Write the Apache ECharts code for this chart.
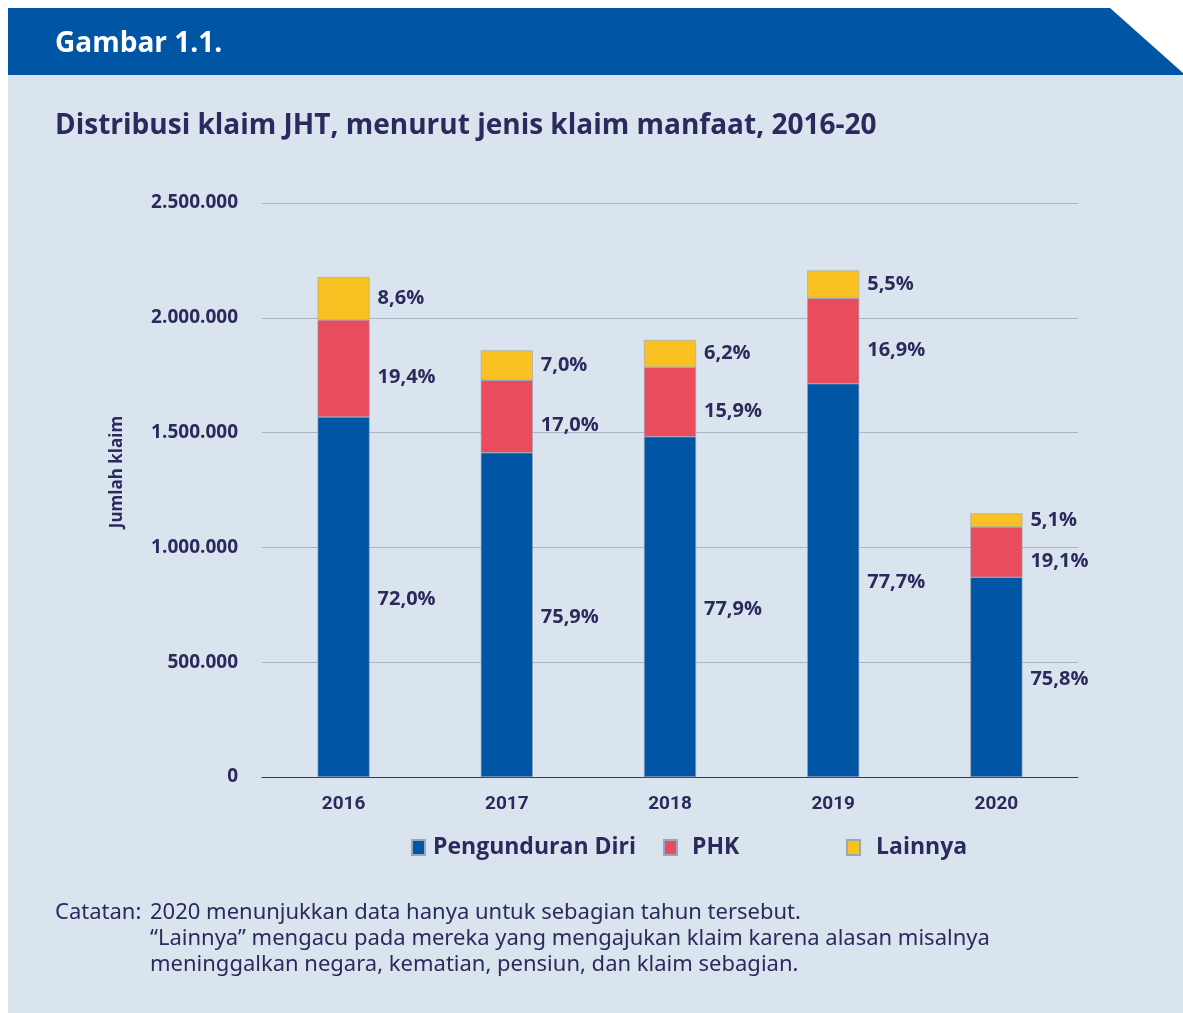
<!DOCTYPE html>
<html>
<head>
<meta charset="utf-8">
<script src="https://cdn.jsdelivr.net/npm/echarts@6/dist/echarts.min.js"></script>
<style>
html,body{margin:0;padding:0;background:#ffffff;}
#chart{width:1183px;height:1013px;}
</style>
</head>
<body>
<div id="chart"></div>
<script>
const categories = ['2016', '2017', '2018', '2019', '2020'];
const pengunduranDiri = [1568000, 1412000, 1482000, 1713000, 870000];
const phk = [423000, 316000, 303000, 372000, 219000];
const lainnya = [187000, 130000, 118000, 121000, 59000];
const pctPengunduran = ['72,0%', '75,9%', '77,9%', '77,7%', '75,8%'];
const pctPhk = ['19,4%', '17,0%', '15,9%', '16,9%', '19,1%'];
const pctLainnya = ['8,6%', '7,0%', '6,2%', '5,5%', '5,1%'];
const seriesNames = ['Pengunduran Diri', 'PHK', 'Lainnya'];
const yTicks = [0, 500000, 1000000, 1500000, 2000000, 2500000];

const TXT = '#2b2a5c';
const colors = ['#0055a5', '#e84c5d', '#f9c121'];
const chart = echarts.init(document.getElementById('chart'));

function fmt(v){ return String(v).replace(/\B(?=(\d{3})+(?!\d))/g, '.'); }

function mkSeries(name, data, pcts, color, dy){
  return {
    name: name, type: 'bar', stack: 'total', barWidth: 52,
    data: data,
    itemStyle: {color: color, borderColor: '#9aa6b8', borderWidth: 0.6},
    label: {
      show: true, position: 'right', distance: 8, offset: [0, dy],
      formatter: p => pcts[p.dataIndex],
      color: TXT, fontFamily: 'Open Sans', fontWeight: 'bold', fontSize: 20
    },
    emphasis: {disabled: true}
  };
}

function mkLegend(name, left, pad){
  return {
    data: [name], left: left, top: 836, padding: 0, itemWidth: 13, itemHeight: 15, itemGap: 8,
    icon: 'rect',
    textStyle: {color: TXT, fontFamily: 'Open Sans', fontWeight: 'bold', fontSize: 23, padding: [0,0,0,pad]}
  };
}

chart.setOption({
  animation: false,
  backgroundColor: '#ffffff',
  graphic: [
    {type: 'rect', shape: {x: 8, y: 75, width: 1175, height: 938}, style: {fill: '#dae4ee'}, z: -10},
    {type: 'polygon', shape: {points: [[8,8],[1110,8],[1183,73],[1183,75],[8,75]]}, style: {fill: '#0055a5'}, z: -9},
    {type: 'text', left: 55, top: 30, style: {text: 'Gambar 1.1.', fill: '#ffffff', font: 'bold 28px "Open Sans"'}},
    {type: 'text', left: 55, top: 112, style: {text: 'Distribusi klaim JHT, menurut jenis klaim manfaat, 2016-20', fill: TXT, font: 'bold 28px "Open Sans"'}},
    {type: 'text', left: 55, top: 900, style: {text: 'Catatan:', fill: TXT, font: '22px "Noto Sans"', lineHeight: 26}},
    {type: 'text', left: 150, top: 900, style: {text: '2020 menunjukkan data hanya untuk sebagian tahun tersebut.\n\u201cLainnya\u201d mengacu pada mereka yang mengajukan klaim karena alasan misalnya\nmeninggalkan negara, kematian, pensiun, dan klaim sebagian.', fill: TXT, font: '22px "Noto Sans"', lineHeight: 26}},
    {type: 'text', x: 117, y: 472, rotation: Math.PI / 2, style: {text: 'Jumlah klaim', fill: TXT, font: 'bold 17px "Open Sans"', align: 'center', verticalAlign: 'middle'}}
  ],
  legend: [mkLegend(seriesNames[0], 411, 3), mkLegend(seriesNames[1], 663, 10), mkLegend(seriesNames[2], 846, 11)],
  grid: {left: 262, right: 105, top: 203, bottom: 236, containLabel: false},
  xAxis: {
    type: 'category', data: categories,
    axisLine: {lineStyle: {color: '#3a3a55', width: 1.2}},
    axisTick: {show: false},
    axisLabel: {color: TXT, fontFamily: 'Roboto', fontWeight: 'bold', fontSize: 19, margin: 18}
  },
  yAxis: {
    type: 'value', min: 0, max: 2500000, interval: 500000,
    axisLine: {show: false}, axisTick: {show: false},
    splitLine: {lineStyle: {color: '#aab4c8', width: 1.2}},
    axisLabel: {color: TXT, fontFamily: 'Open Sans', fontWeight: 'bold', fontSize: 19, margin: 24,
      formatter: v => yTicks.indexOf(v) >= 0 ? fmt(v) : ''}
  },
  series: [
    mkSeries(seriesNames[0], pengunduranDiri, pctPengunduran, colors[0], 2),
    mkSeries(seriesNames[1], phk, pctPhk, colors[1], 9),
    mkSeries(seriesNames[2], lainnya, pctLainnya, colors[2], 0)
  ]
});
</script>
</body>
</html>
